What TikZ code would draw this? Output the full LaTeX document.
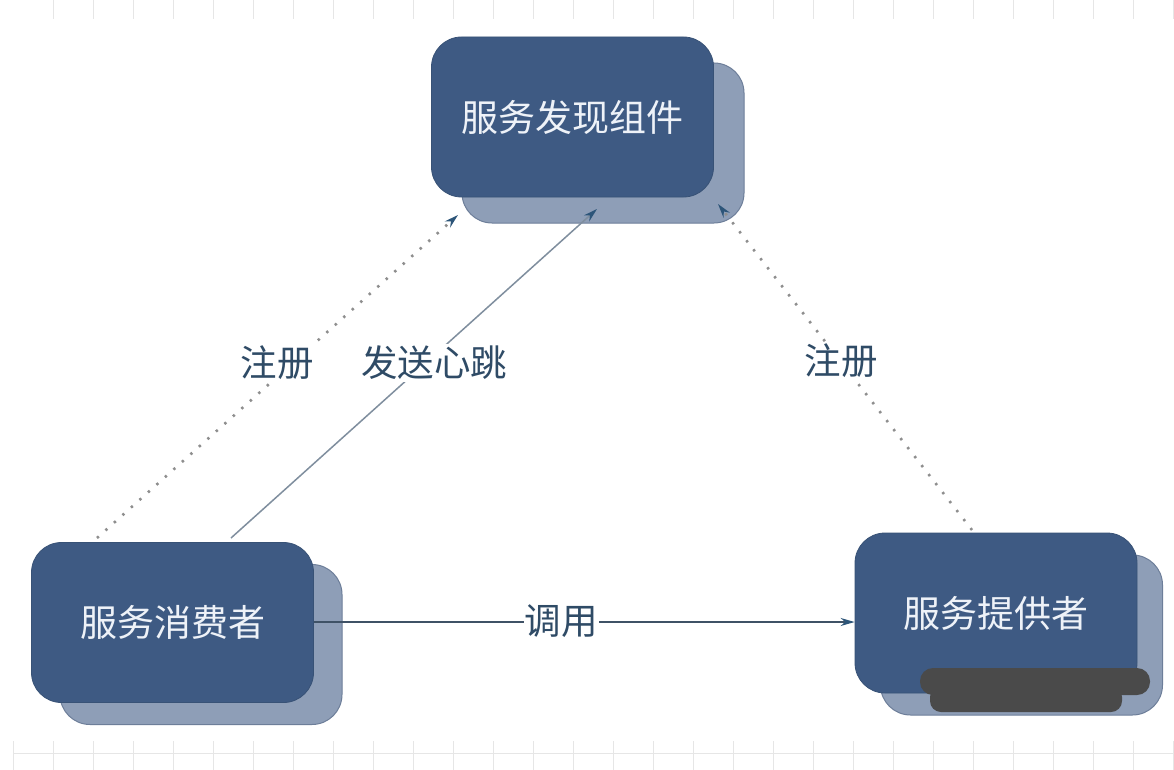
\documentclass[tikz,border=0pt]{standalone}
\usepackage{fontspec}
\setmainfont{Noto Sans CJK SC}
\usetikzlibrary{arrows.meta,calc}
\definecolor{boxfront}{HTML}{3E5A83}
\definecolor{boxfrontedge}{HTML}{385276}
\definecolor{boxback}{HTML}{8E9EB7}
\definecolor{boxbackedge}{HTML}{6D7E99}
\definecolor{boxtext}{HTML}{EEF2F8}
\definecolor{labelcol}{HTML}{2F4B66}
\definecolor{arrowcol}{HTML}{2D5579}
\definecolor{dotcol}{HTML}{8E8E8E}
\definecolor{beatcol}{HTML}{7F8E9E}
\definecolor{callcol}{HTML}{3F5266}
\definecolor{gridcol}{HTML}{E6E6E6}
\definecolor{blobcol}{HTML}{4A4A4A}
\begin{document}
\begin{tikzpicture}[x=1pt,y=-1pt,
  frontbox/.style={rounded corners=30pt, fill=boxfront, draw=boxfrontedge, line width=0.8pt,
    minimum width=282pt, minimum height=160pt, inner sep=0pt, text=boxtext,
    font=\fontsize{37}{42}\selectfont},
  backbox/.style={rounded corners=30pt, fill=boxback, draw=boxbackedge, line width=1pt,
    minimum width=282pt, minimum height=160pt, inner sep=0pt},
  lbl/.style={fill=white, inner sep=2pt, text=labelcol, font=\fontsize{36.5}{40}\selectfont},
  tip/.style={-{Stealth[length=14pt,width=8pt,color=arrowcol]}},
  regline/.style={tip, draw=dotcol, line width=2.6pt, dash pattern=on 2.4pt off 9pt},
  beatline/.style={tip, draw=beatcol, line width=1.5pt},
  callline/.style={tip, draw=callcol, line width=1.5pt},
  gridline/.style={draw=gridcol, line width=0.9pt}]
\useasboundingbox (0,0) rectangle (1174,770);
\fill[white] (0,0) rectangle (1174,770);
% grid remnants
\foreach \x in {53,93,...,1173} \draw[gridline] (\x,0) -- (\x,19);
\draw[gridline] (13,753) -- (1174,753);
\foreach \x in {13,53,...,1173} \draw[gridline] (\x,741) -- (\x,770);
% shadow boxes
\node[backbox] (discS) at (603,143) {};
\node[backbox] (consS) at (201,644.5) {};
\node[backbox] (provS) at (1021.5,635) {};
% front boxes
\node[frontbox] (disc) at (572.5,117) {服务发现组件};
\node[frontbox] (cons) at (172.5,622.5) {服务消费者};
\node[frontbox] (prov) at (996,613) {服务提供者};
% connector end points
\coordinate (regLs) at (97,538);
\coordinate (regLe) at (458,215);
\coordinate (beatS) at (231,538);
\coordinate (beatE) at (597,209);
\coordinate (regRs) at (972,530);
\coordinate (regRe) at (718,204);
% connectors
\draw[regline] (regLs) -- (regLe);
\draw[beatline] (beatS) -- (beatE);
\draw[regline] (regRs) -- (regRe);
\draw[callline] (cons.east |- 0,622) -- (prov.west |- 0,622);
% labels
\node[lbl] (lregL) at (277,363) {注册};
\node[lbl] (lbeat) at (434,363) {发送心跳};
\node[lbl] (lregR) at (841,361) {注册};
\node[lbl, inner sep=1pt] (lcall) at (561,621) {调用};
% redaction blob
\fill[blobcol, rounded corners=13pt] (920,668) rectangle (1150,695);
\fill[blobcol, rounded corners=11pt] (930,686) rectangle (1122,712);
\end{tikzpicture}
\end{document}
